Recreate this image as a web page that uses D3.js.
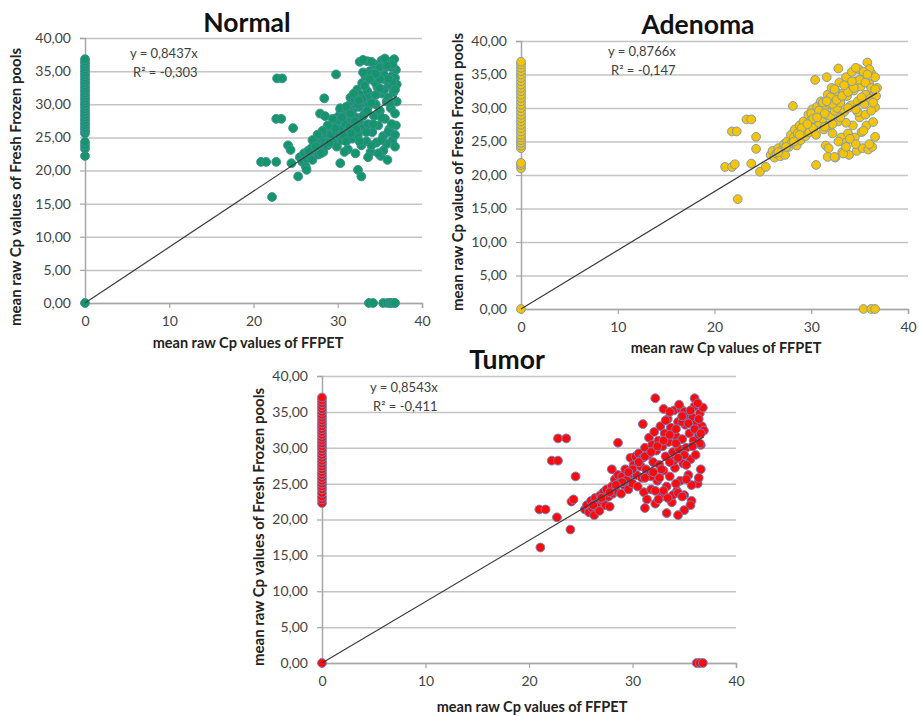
<!DOCTYPE html>
<html><head><meta charset="utf-8">
<script src="https://cdn.jsdelivr.net/npm/d3@7"></script>
<style>
body{margin:0;background:#fff;}
svg{display:block;font-family:Lato,"Open Sans",sans-serif;}
</style></head><body>
<svg id="chart" width="919" height="716"></svg>
<script>
const xTicks = [0, 10, 20, 30, 40];
const yTicks = [0, 5, 10, 15, 20, 25, 30, 35, 40];
const xTitle = "mean raw Cp values of FFPET";
const yTitle = "mean raw Cp values of Fresh Frozen pools";

// Normal
const normalSlope = 0.8437;
const normalEq = ["y = 0,8437x", "R² = -0,303"];
const normalZeroX = [0.0, 22.2, 23.3, 23.8, 24.3, 25.6, 26.0, 26.4, 26.8, 27.2, 27.6, 28.0, 28.4, 28.8, 29.2, 29.6, 30.0, 30.4, 30.8, 31.2, 31.6, 32.0, 32.4, 32.8, 33.2, 33.6, 34.0, 34.4, 34.8, 35.2, 35.6, 36.0, 36.4, 36.8];
const normalZeroY = [33.7, 34.2, 35.4, 35.9, 36.2, 36.5, 36.8];
const normalPts = [[25.5,22.0],[25.8,21.3],[26.0,22.6],[26.2,20.6],[26.3,21.8],[26.5,23.0],[26.7,22.2],[26.9,23.4],[27.0,21.6],[27.2,22.8],[27.4,24.0],[27.5,23.2],[27.7,22.4],[27.9,24.4],[28.0,23.6],[28.2,25.0],[28.3,22.8],[28.5,24.2],[28.6,25.6],[28.8,23.8],[28.9,26.0],[29.1,24.6],[29.2,25.4],[29.4,26.6],[29.5,24.2],[29.6,27.2],[29.8,25.8],[29.9,23.6],[30.0,26.8],[30.1,28.2],[30.2,25.2],[30.4,27.6],[30.5,24.6],[30.6,26.2],[30.7,29.0],[30.9,27.0],[31.0,25.6],[31.1,28.4],[31.2,23.2],[31.3,29.8],[31.4,26.6],[31.5,31.0],[31.6,27.8],[31.7,24.8],[31.8,29.2],[31.9,26.0],[32.0,30.6],[32.1,22.6],[32.2,28.0],[32.3,32.2],[32.4,25.4],[32.5,29.6],[32.6,27.2],[32.7,31.4],[32.8,23.8],[32.9,33.2],[33.0,26.4],[33.1,30.2],[33.2,28.6],[33.3,34.2],[33.4,24.4],[33.5,32.0],[33.6,27.0],[33.7,29.8],[33.8,35.0],[33.9,22.8],[34.0,31.2],[34.1,25.8],[34.2,33.6],[34.3,28.2],[34.4,36.0],[34.5,30.0],[34.6,24.2],[34.7,32.6],[34.8,26.8],[34.9,34.8],[35.0,29.0],[35.1,22.2],[35.2,36.6],[35.3,31.6],[35.4,25.2],[35.5,33.8],[35.6,27.8],[35.7,35.6],[35.8,30.4],[35.9,21.6],[36.0,32.8],[36.1,26.2],[36.2,36.4],[36.3,29.4],[36.4,34.2],[36.5,24.6],[36.6,31.8],[36.7,36.8],[36.8,28.6],[36.9,35.2],[37.0,33.0],[37.0,30.4],[36.8,23.6],[36.9,26.8],[36.4,27.0],[35.8,24.0],[35.4,23.0],[34.8,22.6],[33.5,36.5],[32.6,36.4],[33.0,36.7],[34.0,36.4],[35.0,35.6],[35.6,36.9],[36.4,35.6],[36.8,34.0],[36.5,33.4],[35.5,32.2],[34.5,33.2],[34.0,34.6],[33.6,31.0],[33.2,32.8],[32.9,30.8],[32.4,30.0],[31.9,31.6],[31.4,29.0],[30.8,28.4],[30.3,29.2],[30.0,27.6],[29.7,26.4],[28.4,30.9],[27.9,28.6],[28.5,28.2],[29.8,34.5],[30.3,29.4],[30.3,21.1],[32.4,20.1],[32.8,19.1],[26.3,20.1],[25.3,19.1],[24.5,21.1],[24.1,23.8],[24.4,23.1],[24.7,26.4],[22.8,33.9],[23.4,33.9],[22.7,27.8],[23.3,27.8],[20.9,21.3],[21.5,21.3],[22.7,21.3],[22.2,16.0],
  [30.5,28.0],[31.0,29.6],[31.5,28.6],[32.0,27.4],[32.5,30.6],[33.0,28.2],[33.5,29.0],[34.0,30.2],[34.5,31.4],[35.0,32.4],[35.5,34.4],[36.0,31.0],[36.5,36.0],[36.0,33.8],[35.0,33.8],[34.5,34.6],[33.0,34.8],[33.8,33.8],[35.8,35.8],[36.8,32.2],[36.2,30.2],[35.2,28.0],[34.2,27.0],[33.4,25.8],[32.2,26.2],[31.6,25.6],[30.6,25.4],[29.4,27.8],[28.8,26.8],[28.2,26.0],[27.6,25.4],[27.0,24.6],[26.6,22.8],[27.4,23.6],[28.0,22.6],[29.0,24.2],[31.0,24.4],[32.6,24.4],[34.0,23.8],[35.2,24.6],[36.0,25.8],[36.8,25.4],[33.6,22.0],[30.8,22.8]];

// Adenoma
const adenomaSlope = 0.8766;
const adenomaEq = ["y = 0,8766x", "R² = -0,147"];
const adenomaZeroX = [0.0, 21.0, 21.5, 21.8, 24.0, 24.4, 24.8, 25.2, 25.6, 26.0, 26.5, 27.0, 27.5, 28.0, 28.5, 29.0, 29.5, 30.0, 30.5, 31.0, 31.5, 32.0, 32.5, 33.0, 33.5, 34.0, 34.5, 35.0, 35.5, 36.0, 36.5, 36.9];
const adenomaZeroY = [35.4, 36.2, 36.6];
const adenomaPts = [[25.8,23.0],[26.0,23.6],[26.2,22.6],[26.4,23.2],[26.6,24.0],[26.8,22.8],[27.0,23.8],[27.2,24.6],[27.3,23.0],[27.5,25.0],[27.7,24.2],[27.9,26.0],[28.0,24.8],[28.2,25.6],[28.3,26.8],[28.5,24.4],[28.6,26.2],[28.8,27.4],[28.9,25.2],[29.1,26.6],[29.2,28.0],[29.4,25.8],[29.5,27.2],[29.7,29.0],[29.8,26.4],[30.0,28.2],[30.1,29.8],[30.2,27.0],[30.4,28.8],[30.5,26.0],[30.6,30.2],[30.8,27.8],[30.9,29.2],[31.0,31.0],[31.2,28.4],[31.3,26.8],[31.4,30.0],[31.5,24.4],[31.6,29.0],[31.7,32.0],[31.8,27.4],[31.9,30.6],[32.0,28.8],[32.1,33.0],[32.2,26.2],[32.3,31.4],[32.4,29.6],[32.5,22.6],[32.6,32.4],[32.7,30.0],[32.8,28.0],[32.9,33.8],[33.0,31.2],[33.1,25.6],[33.2,23.4],[33.3,32.2],[33.4,29.4],[33.5,24.8],[33.6,34.6],[33.7,31.8],[33.8,26.2],[33.9,23.0],[34.0,33.4],[34.1,30.4],[34.2,35.4],[34.3,27.4],[34.4,32.6],[34.5,25.6],[34.6,34.0],[34.7,23.6],[34.8,31.0],[34.9,35.8],[35.0,28.6],[35.1,33.2],[35.2,26.4],[35.3,24.0],[35.4,34.8],[35.5,30.6],[35.6,32.0],[35.7,27.4],[35.8,36.8],[35.9,23.8],[36.0,33.6],[36.1,31.4],[36.2,35.2],[36.3,24.2],[36.4,27.9],[36.5,32.4],[36.6,34.6],[36.7,31.8],[36.8,33.0],[36.6,30.1],[36.6,25.7],[36.0,35.8],[35.4,35.4],[34.6,36.0],[33.8,33.2],[33.0,30.8],[32.0,31.6],[31.2,30.8],[30.0,29.2],[29.0,27.0],[34.8,29.4],[35.6,29.0],[36.2,29.6],[33.6,27.8],[34.0,25.4],[32.8,25.0],[31.8,24.0],[31.7,22.7],[32.4,22.7],[33.3,23.2],[30.5,21.5],[28.1,30.3],[30.4,34.2],[31.6,34.6],[32.8,35.9],[24.3,25.7],[24.3,23.9],[23.8,21.7],[24.7,20.5],[25.3,21.2],[21.1,21.2],[21.8,21.2],[22.1,21.6],[21.8,26.5],[22.3,26.5],[23.3,28.3],[23.8,28.3],[22.4,16.4],
  [30.2,28.4],[30.8,29.6],[31.4,29.2],[32.2,30.6],[32.6,31.2],[33.2,31.8],[33.8,32.4],[34.4,33.0],[35.0,34.2],[35.6,33.8],[36.2,33.0],[36.6,32.8],[35.8,35.0],[34.2,34.0],[33.4,33.4],[32.4,32.8],[31.6,31.0],[30.6,28.6],[29.6,27.6],[28.8,26.0],[28.2,25.0],[27.4,24.2],[26.6,23.4],[36.4,30.8],[35.2,31.6],[34.6,29.8],[33.8,30.0],[33.0,28.6],[32.2,27.6],[31.4,27.2],[35.4,26.6],[34.6,24.6],[33.6,24.2],[36.0,24.6]];

// Tumor
const tumorSlope = 0.8543;
const tumorEq = ["y = 0,8543x", "R² = -0,411"];
const tumorZeroX = [0.0, 22.3, 22.8, 23.2, 23.7, 24.2, 24.6, 25.0, 25.4, 25.8, 26.2, 26.6, 27.0, 27.4, 27.8, 28.2, 28.6, 29.0, 29.4, 29.8, 30.2, 30.6, 31.0, 31.4, 31.8, 32.2, 32.6, 33.0, 33.4, 33.8, 34.2, 34.6, 35.0, 35.4, 35.8, 36.2, 36.6, 37.0];
const tumorZeroY = [36.2, 36.5, 36.8];
const tumorPts = [[25.4,21.4],[25.6,22.0],[25.8,21.0],[26.0,22.6],[26.1,21.6],[26.3,20.6],[26.4,23.0],[26.6,22.2],[26.8,21.2],[26.9,23.4],[27.1,22.6],[27.2,23.8],[27.4,22.0],[27.5,24.2],[27.7,23.2],[27.8,21.8],[28.0,24.6],[28.1,23.6],[28.3,25.6],[28.4,24.0],[28.6,26.2],[28.7,25.0],[28.9,23.6],[29.0,26.0],[29.2,24.8],[29.3,27.0],[29.5,25.6],[29.6,24.2],[29.8,28.6],[29.9,26.4],[30.0,25.0],[30.1,27.6],[30.3,28.8],[30.4,26.2],[30.5,24.6],[30.6,29.2],[30.8,27.4],[30.9,25.8],[31.0,28.6],[31.1,23.8],[31.2,30.0],[31.3,27.0],[31.4,22.8],[31.5,29.0],[31.6,31.4],[31.7,26.4],[31.8,24.2],[31.9,30.4],[32.0,28.0],[32.1,32.2],[32.2,22.2],[32.3,29.6],[32.4,25.4],[32.5,31.0],[32.6,27.6],[32.7,33.0],[32.8,23.2],[32.9,30.2],[33.0,26.8],[33.1,32.0],[33.2,28.8],[33.3,24.6],[33.4,34.0],[33.5,30.8],[33.6,26.0],[33.7,32.8],[33.8,22.4],[33.9,29.4],[34.0,35.2],[34.1,27.2],[34.2,31.6],[34.3,24.0],[34.4,33.6],[34.5,29.8],[34.6,25.4],[34.7,35.4],[34.8,31.2],[34.9,27.8],[35.0,23.4],[35.1,33.2],[35.2,30.0],[35.3,34.6],[35.4,26.2],[35.5,32.0],[35.6,28.4],[35.7,22.6],[35.8,34.2],[35.9,31.0],[36.0,35.8],[36.1,29.0],[36.2,33.4],[36.3,25.0],[36.4,31.8],[36.5,34.8],[36.6,30.4],[36.7,33.0],[36.8,35.6],[36.9,32.4],[36.5,30.6],[36.6,27.0],[36.4,25.8],[35.7,24.8],[35.6,22.0],[35.0,21.3],[34.4,20.6],[33.3,20.9],[31.2,21.6],[33.9,23.4],[34.4,23.7],[34.8,23.2],[33.0,24.0],[32.5,22.8],[31.8,26.0],[32.6,25.8],[35.2,27.6],[34.0,28.2],[33.0,35.4],[33.6,35.0],[34.5,36.0],[35.0,35.0],[36.0,36.9],[36.3,36.2],[32.2,36.9],[31.0,33.3],[28.6,30.7],[28.0,27.0],[24.5,26.0],[24.1,22.5],[24.3,22.8],[24.0,18.6],[22.7,20.3],[22.8,31.3],[23.6,31.3],[22.2,28.2],[22.8,28.2],[21.0,21.4],[21.6,21.4],[21.1,16.1],
  [30.0,27.0],[30.6,28.0],[31.2,28.8],[31.8,29.4],[32.4,30.2],[33.0,31.0],[33.6,31.8],[34.2,32.6],[34.8,33.6],[35.4,33.4],[36.0,32.6],[36.6,32.0],[35.8,30.2],[35.0,29.0],[34.4,28.6],[33.6,28.0],[32.8,27.0],[32.0,26.6],[31.2,25.8],[29.6,26.6],[29.0,25.2],[28.4,24.8],[27.8,23.8],[27.0,23.0],[26.2,22.0],[34.8,34.4],[35.6,35.2],[36.4,34.0],[33.2,33.8],[34.2,30.6],[35.2,25.6],[34.2,25.0],[33.4,23.0],[32.2,24.0]];

const panels = [
  {title:"Normal", slope:normalSlope, eq:normalEq, zx:normalZeroX, zy:normalZeroY, pts:normalPts,
   fill:"#13976a", stroke:"#3f8f98", L:85, R:422, T:38, B:303,
   titleX:247, titleY:32, yTitleX:16, yTitleY:187, xTitleX:248, xTitleY:348, eqX:130, eqY:58},
  {title:"Adenoma", slope:adenomaSlope, eq:adenomaEq, zx:adenomaZeroX, zy:adenomaZeroY, pts:adenomaPts,
   fill:"#f6c400", stroke:"#7f9cbc", L:521, R:908, T:41, B:309,
   titleX:698, titleY:34, yTitleX:458, yTitleY:172, xTitleX:726, xTitleY:353, eqX:608, eqY:56},
  {title:"Tumor", slope:tumorSlope, eq:tumorEq, zx:tumorZeroX, zy:tumorZeroY, pts:tumorPts,
   fill:"#ff0a0a", stroke:"#7080c0", L:322, R:736, T:376, B:663,
   titleX:507, titleY:369, yTitleX:259, yTitleY:527, xTitleX:532, xTitleY:712, eqX:370, eqY:392}
];

const svg = d3.select("#chart");
const fmtY = d => d.toFixed(2).replace(".", ",");

panels.forEach(p => {
  const x = d3.scaleLinear().domain([0, 40]).range([p.L, p.R]);
  const y = d3.scaleLinear().domain([0, 40]).range([p.B, p.T]);
  const g = svg.append("g");

  g.append("g").attr("transform", `translate(${p.L},0)`)
    .call(d3.axisLeft(y).tickValues(yTicks).tickSize(-(p.R - p.L)).tickFormat(""))
    .call(a => a.select(".domain").remove())
    .call(a => a.selectAll("line").attr("stroke", "#c4c4c4").attr("stroke-width", 1.5));

  const ya = g.append("g").attr("transform", `translate(${p.L},0)`)
    .call(d3.axisLeft(y).tickValues(yTicks).tickSize(5).tickPadding(9).tickFormat(fmtY));
  ya.select(".domain").attr("stroke", "#a6a6a6").attr("stroke-width", 1.5);
  ya.selectAll("line").attr("stroke", "#a6a6a6").attr("stroke-width", 1.2);
  ya.selectAll("text").attr("font-size", 14).attr("fill", "#444").attr("font-family", "Lato");

  const xa = g.append("g").attr("transform", `translate(0,${p.B})`)
    .call(d3.axisBottom(x).tickValues(xTicks).tickSize(5).tickPadding(8).tickFormat(d3.format("d")));
  xa.select(".domain").attr("stroke", "#a6a6a6").attr("stroke-width", 1.5);
  xa.selectAll("line").attr("stroke", "#a6a6a6").attr("stroke-width", 1.2);
  xa.selectAll("text").attr("font-size", 14).attr("fill", "#444").attr("font-family", "Lato");

  const all = p.pts.concat(p.zx.map(v => [0, v]), p.zy.map(v => [v, 0]));
  g.append("g").selectAll("circle").data(all).join("circle")
    .attr("cx", d => x(d[0])).attr("cy", d => y(d[1])).attr("r", 4.4)
    .attr("fill", p.fill).attr("stroke", p.stroke).attr("stroke-width", 1);

  const xmax = d3.max(all, d => d[0]);
  g.append("line")
    .attr("x1", x(0)).attr("y1", y(0))
    .attr("x2", x(xmax)).attr("y2", y(p.slope * xmax))
    .attr("stroke", "#3a3a3a").attr("stroke-width", 1.2);

  g.append("text").attr("x", p.eqX).attr("y", p.eqY).attr("font-size", 13).attr("fill", "#404040").text(p.eq[0]);
  g.append("text").attr("x", p.eqX + 3).attr("y", p.eqY + 19).attr("font-size", 13).attr("fill", "#404040").text(p.eq[1]);

  g.append("text").attr("x", p.titleX).attr("y", p.titleY).attr("text-anchor", "middle")
    .attr("font-size", 26.5).attr("font-weight", "bold").attr("fill", "#111").text(p.title);
  g.append("text").attr("x", p.xTitleX).attr("y", p.xTitleY).attr("text-anchor", "middle")
    .attr("font-size", 14.5).attr("font-weight", "bold").attr("fill", "#222").text(xTitle);
  g.append("text").attr("transform", `translate(${p.yTitleX},${p.yTitleY}) rotate(-90)`)
    .attr("text-anchor", "middle").attr("dy", "0.35em")
    .attr("font-size", 15).attr("font-weight", "bold").attr("fill", "#222").text(yTitle);
});
</script>
</body></html>
